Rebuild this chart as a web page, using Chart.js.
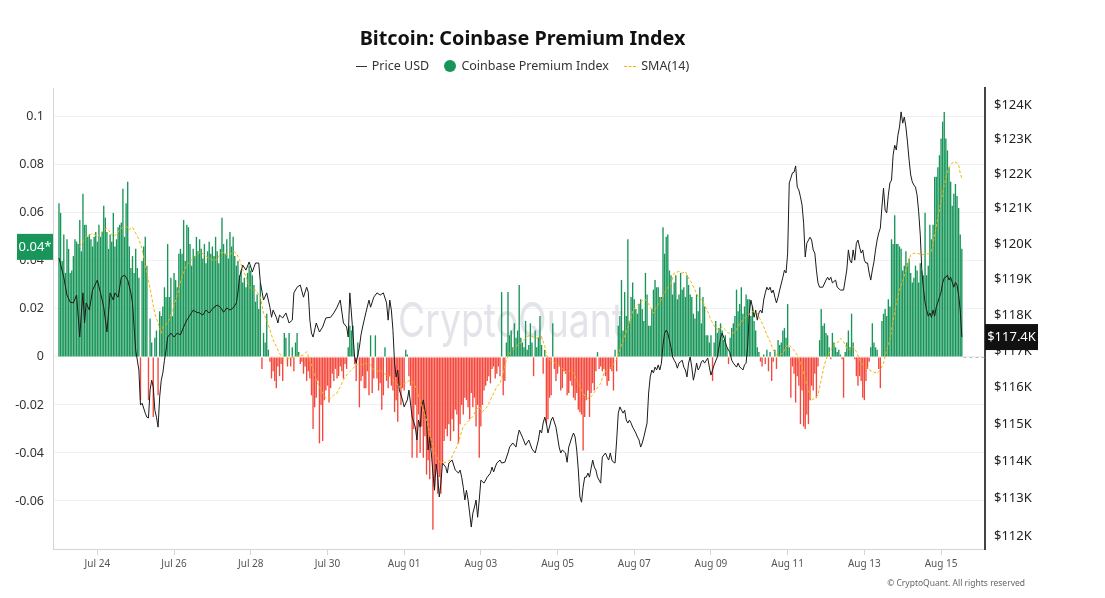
<!DOCTYPE html>
<html>
<head>
<meta charset="utf-8">
<title>Bitcoin: Coinbase Premium Index</title>
<script src="https://cdn.jsdelivr.net/npm/chart.js@4.4.1/dist/chart.umd.min.js"></script>
<style>
  html, body { margin: 0; padding: 0; background: #fff; }
  #wrap { position: relative; width: 1105px; height: 598px; font-family: "Noto Sans", sans-serif; }
  #premiumChart { position: absolute; left: 0; top: 0; }
  #title { position: absolute; left: 0; width: 1045px; top: 24px; text-align: center; font-size: 19.8px; font-weight: 700; color: #111; }
  #legend { position: absolute; left: 0; width: 1045px; top: 57px; text-align: center; font-size: 12.5px; color: #333; white-space: nowrap; }
  #legend .item { margin: 0 6px; }
  .mk-line { display: inline-block; width: 11px; border-top: 1px solid #333; vertical-align: middle; margin-right: 5px; }
  .mk-dot { display: inline-block; width: 12px; height: 12px; border-radius: 50%; background: #189659; vertical-align: -2px; margin-right: 5px; }
  .mk-dash { display: inline-block; width: 12px; border-top: 1px dashed #f5b400; vertical-align: middle; margin-right: 5px; }
  #copy { position: absolute; right: 80px; top: 577px; font-size: 8.5px; color: #666; }
</style>
</head>
<body>
<div id="wrap">
  <canvas id="premiumChart" width="1105" height="598"></canvas>
  <div id="title">Bitcoin: Coinbase Premium Index</div>
  <div id="legend">
    <span class="item"><span class="mk-line"></span>Price USD</span>
    <span class="item"><span class="mk-dot"></span>Coinbase Premium Index</span>
    <span class="item"><span class="mk-dash"></span>SMA(14)</span>
  </div>
  <div id="copy">© CryptoQuant. All rights reserved</div>
</div>
<script>
// hourly Coinbase premium, starting Jul 23 00:00 (index = hour)
const premium = [
  // Jul 23
  0.064, 0.060, 0.040, 0.051, 0.035, 0.049, 0.045, 0.035, 0.036, 0.042, 0.049, 0.048, 0.047, 0.057, 0.044, 0.068, 0.055, 0.055, 0.050, 0.051, 0.049, 0.046, 0.050, 0.052,
  // Jul 24
  0.048, 0.055, 0.050, 0.052, 0.063, 0.058, 0.052, 0.045, 0.051, 0.048, 0.060, 0.046, 0.049, 0.054, 0.055, 0.056, 0.070, 0.050, 0.064, 0.073, 0.046, 0.037, 0.042, 0.035,
  // Jul 25
  0.045, 0.037, 0.033, -0.018, 0.040, 0.046, 0.050, 0.038, -0.018, 0.016, 0.006, -0.025, 0.008, 0.011, -0.016, 0.019, 0.017, 0.021, 0.029, 0.025, 0.047, 0.025, 0.033, 0.017,
  // Jul 26
  0.035, 0.032, 0.029, 0.043, 0.045, 0.043, 0.057, 0.040, 0.055, 0.054, 0.047, 0.038, 0.045, 0.042, 0.050, 0.044, 0.049, 0.045, 0.041, 0.047, 0.039, 0.044, 0.048, 0.043,
  // Jul 27
  0.046, 0.042, 0.050, 0.044, 0.039, 0.045, 0.058, 0.047, 0.043, 0.049, 0.041, 0.052, 0.046, 0.050, 0.042, 0.038, 0.040, 0.034, 0.036, 0.031, 0.033, 0.029, 0.035, 0.038,
  // Jul 28
  0.036, 0.034, 0.030, 0.023, 0.026, 0.020, 0.031, -0.005, 0.010, 0.006, 0.018, 0.003, -0.002, -0.009, -0.006, -0.010, -0.013, -0.004, -0.008, -0.003, -0.010, 0.010, 0.008, -0.004,
  // Jul 29
  0.010, -0.004, 0.004, -0.006, 0.006, 0.010, 0.002, -0.003, -0.002, -0.007, -0.004, -0.010, -0.006, -0.009, -0.016, -0.030, -0.021, -0.017, -0.010, -0.036, -0.020, -0.035, -0.018, -0.014,
  // Jul 30
  -0.012, -0.019, -0.013, -0.007, -0.010, -0.005, -0.009, -0.008, -0.004, -0.006, -0.009, -0.003, -0.005, 0.004, 0.013, 0.011, 0.013, -0.003, -0.010, 0.006, -0.021, -0.010, -0.008, -0.013,
  // Jul 31
  -0.013, -0.006, -0.016, 0.009, -0.015, -0.009, 0.009, -0.009, -0.014, -0.011, -0.022, -0.016, 0.004, -0.010, -0.013, -0.008, -0.012, -0.014, -0.023, -0.018, -0.027, -0.012, -0.020, -0.013,
  // Aug 01
  -0.014, 0.003, 0.001, -0.008, -0.012, -0.042, -0.030, -0.020, -0.042, -0.024, -0.040, -0.029, -0.042, -0.033, -0.049, -0.043, -0.051, -0.038, -0.072, -0.054, -0.046, -0.057, -0.050, -0.057,
  // Aug 02
  -0.044, -0.035, -0.030, -0.033, -0.028, -0.035, -0.026, -0.031, -0.022, -0.024, -0.036, -0.028, -0.020, -0.024, -0.017, -0.018, -0.021, -0.026, -0.015, -0.021, -0.017, -0.029, -0.020, -0.042,
  // Aug 03
  -0.029, -0.020, -0.014, -0.012, -0.010, -0.008, -0.011, -0.005, -0.004, -0.009, -0.007, -0.004, -0.008, 0.027, -0.016, -0.010, 0.006, 0.027, 0.009, 0.011, 0.004, 0.014, 0.008, 0.011,
  // Aug 04
  0.030, 0.008, 0.006, 0.004, 0.015, 0.003, 0.005, 0.014, 0.006, -0.008, 0.011, 0.004, 0.008, 0.017, 0.005, -0.007, 0.003, -0.028, -0.026, -0.017, -0.016, 0.014, -0.005, -0.010,
  // Aug 05
  -0.007, -0.004, -0.014, -0.013, -0.006, -0.007, -0.016, -0.015, -0.010, -0.012, -0.017, -0.018, -0.015, -0.022, -0.023, -0.024, -0.039, -0.025, -0.018, -0.014, -0.025, -0.015, -0.011, -0.014,
  // Aug 06
  -0.006, 0.002, -0.005, -0.004, -0.006, -0.005, -0.008, -0.012, -0.010, -0.005, -0.006, -0.014, 0.003, -0.006, 0.013, 0.017, 0.032, 0.011, 0.027, 0.017, 0.049, 0.015, 0.025, 0.031,
  // Aug 07
  0.024, 0.020, 0.018, 0.022, 0.024, 0.020, 0.015, 0.035, 0.026, 0.013, 0.013, 0.020, 0.028, 0.032, 0.029, 0.029, 0.025, 0.025, 0.054, 0.043, 0.050, 0.051, 0.036, 0.034,
  // Aug 08
  0.026, 0.031, 0.034, 0.024, 0.026, 0.035, 0.028, 0.029, 0.025, 0.034, 0.030, 0.026, 0.025, 0.018, 0.016, 0.026, 0.019, 0.029, 0.014, 0.025, 0.021, 0.009, 0.009, 0.006,
  // Aug 09
  0.009, -0.010, 0.006, 0.015, 0.010, 0.012, 0.014, 0.011, 0.007, 0.009, 0.004, -0.003, 0.008, 0.012, 0.014, 0.017, 0.028, 0.019, 0.022, 0.029, 0.018, 0.021, 0.026, 0.024,
  // Aug 10
  0.024, 0.017, 0.021, 0.015, 0.011, 0.004, 0.002, -0.002, -0.004, 0.001, -0.003, 0.003, -0.006, 0.002, -0.010, -0.002, 0.003, -0.005, 0.007, 0.005, 0.006, 0.011, 0.012, 0.008,
  // Aug 11
  0.022, 0.004, -0.017, -0.004, -0.007, -0.019, -0.008, -0.012, -0.028, -0.014, -0.029, -0.030, -0.024, -0.028, -0.018, -0.012, -0.014, -0.007, -0.017, -0.004, 0.007, 0.020, 0.013, 0.014,
  // Aug 12
  0.010, 0.009, 0.004, -0.001, 0.010, 0.006, 0.004, 0.002, 0.003, 0.001, -0.001, -0.017, 0.002, 0.006, 0.011, 0.004, 0.018, 0.006, -0.001, -0.008, -0.012, -0.008, -0.010, -0.017,
  // Aug 13
  -0.018, -0.010, -0.005, -0.002, 0.004, 0.014, 0.006, 0.004, 0.003, -0.005, -0.013, 0.015, 0.018, 0.020, 0.017, 0.024, 0.021, 0.049, 0.047, 0.059, 0.047, 0.047, 0.046, 0.045,
  // Aug 14
  0.036, 0.038, 0.044, 0.039, 0.041, 0.035, 0.031, 0.033, 0.038, 0.036, 0.031, 0.039, 0.036, 0.034, 0.060, 0.034, 0.038, 0.055, 0.049, 0.055, 0.075, 0.075, 0.079, 0.084,
  // Aug 15
  0.091, 0.098, 0.102, 0.091, 0.086, 0.079, 0.073, 0.063, 0.068, 0.072, 0.067, 0.062, 0.051, 0.045
];

// [hour, SMA(14)]
const smaSeries = [
  [13,0.046],[17,0.050],[21,0.0515],[24,0.050],[26,0.0515],[28,0.053],[30,0.0536],[32,0.052],[34,0.050],[36,0.051],[38,0.053],[40,0.054],[42,0.0545],[44,0.053],[46,0.054],[48,0.0515],[50,0.049],[52,0.045],[54,0.038],[56,0.032],[58,0.025],[60,0.018],[62,0.014],[64,0.0098],[65,0.0126],[67,0.0133],[69,0.0154],[71,0.0196],[73,0.0238],[75,0.028],[77,0.0335],[80,0.0383],[84,0.0411],[88,0.0435],[90,0.043],[92,0.042],[94,0.041],[96,0.0404],[99,0.0404],[101,0.0432],[103,0.0435],[105,0.0425],[107,0.0425],[109,0.044],[111,0.0432],[113,0.0404],[115,0.0363],[117,0.0335],[119,0.0293],[121,0.028],[123,0.0279],[126,0.025],[128,0.0182],[130,0.0154],[132,0.0113],[134,0.0071],[136,0.0043],[138,0.0015],[140,-0.0006],[144,-0.0006],[148,0.0001],[153,0.0008],[155,0.0022],[157,-0.0012],[159,-0.0054],[161,-0.0096],[163,-0.0124],[165,-0.0151],[167,-0.0172],[170,-0.0172],[172,-0.0158],[174,-0.0151],[176,-0.0124],[178,-0.0096],[180,-0.0075],[182,-0.0061],[184,-0.0047],[186,-0.0033],[188,-0.0026],[190,-0.0033],[192,-0.0026],[195,-0.0033],[197,-0.0054],[199,-0.0061],[201,-0.0054],[203,-0.0068],[205,-0.0075],[207,-0.0082],[209,-0.0096],[211,-0.011],[213,-0.0124],[215,-0.0117],[218,-0.0103],[220,-0.0096],[222,-0.011],[224,-0.0137],[226,-0.018],[228,-0.0221],[230,-0.0262],[232,-0.0318],[234,-0.0373],[236,-0.0415],[238,-0.0436],[240,-0.0443],[243,-0.0436],[245,-0.0429],[247,-0.0401],[249,-0.0373],[251,-0.0332],[253,-0.029],[255,-0.0276],[257,-0.0262],[259,-0.0248],[261,-0.0221],[263,-0.0207],[265,-0.0228],[268,-0.0207],[270,-0.018],[272,-0.0151],[274,-0.0124],[276,-0.011],[278,-0.0068],[280,-0.0012],[282,0.0015],[284,0.0029],[286,0.0043],[288,0.0055],[290,0.0064],[293,0.0085],[295,0.009],[297,0.0082],[299,0.0078],[302,0.0085],[304,0.0043],[305,0.0008],[307,-0.0012],[309,-0.0019],[311,-0.0026],[314,-0.004],[316,-0.0054],[318,-0.0068],[320,-0.0054],[322,-0.0068],[324,-0.0096],[326,-0.0124],[328,-0.0151],[330,-0.0172],[332,-0.0172],[334,-0.0158],[336,-0.0137],[339,-0.011],[341,-0.0068],[343,-0.0054],[345,-0.0047],[347,-0.003],[349,-0.001],[351,0.003],[353,0.007],[355,0.0105],[357,0.014],[359,0.019],[361,0.021],[364,0.023],[367,0.024],[370,0.021],[372,0.0182],[374,0.021],[377,0.0238],[380,0.0279],[383,0.0307],[385,0.0349],[388,0.0356],[390,0.0349],[392,0.0356],[394,0.0328],[396,0.0307],[398,0.0279],[400,0.0251],[402,0.024],[404,0.0217],[406,0.0189],[408,0.0154],[411,0.0119],[413,0.0113],[415,0.0126],[417,0.0113],[419,0.0099],[422,0.0099],[424,0.0113],[426,0.014],[430,0.0168],[434,0.0189],[437,0.0182],[439,0.0154],[441,0.0126],[443,0.0092],[445,0.0064],[447,0.0029],[449,0.0008],[451,0.0008],[453,0.0015],[455,0.0043],[457,0.005],[459,0.0036],[462,0.0008],[465,-0.004],[467,-0.0096],[469,-0.0137],[471,-0.018],[473,-0.0172],[475,-0.0158],[477,-0.0096],[479,-0.0033],[481,0.0008],[483,0.0029],[485,0.005],[488,0.0064],[489,0.0078],[491,0.0064],[493,0.0036],[495,0.0029],[497,0.0043],[499,0.0022],[501,-0.0012],[503,-0.0033],[505,-0.004],[507,-0.0054],[509,-0.0061],[512,-0.0068],[514,-0.0054],[516,-0.0026],[518,0.003],[520,0.0071],[522,0.015],[524,0.0224],[526,0.0279],[528,0.0314],[531,0.0383],[533,0.0425],[535,0.0432],[538,0.043],[540,0.0425],[542,0.0428],[544,0.043],[546,0.0439],[548,0.0508],[550,0.0578],[552,0.0647],[554,0.0717],[556,0.0772],[558,0.08],[560,0.0814],[562,0.0807],[563,0.08],[564,0.0765],[565,0.0744]
];

// [hour, BTC price USD]
const priceSeries = [
  [0,119600],[3,119060],[5,118560],[7,118360],[9,118340],[11,118560],[13,117390],[14,118060],[15,118620],[16,117780],[17,118340],[19,118140],[21,118700],[24,118980],[26,118620],[28,118220],[30,117530],[32,118620],[34,118420],[35,118620],[37,118500],[39,119060],[41,119120],[43,118980],[45,118620],[46,118340],[47,117670],[48,117030],[50,116480],[51,115520],[52,115570],[54,115300],[55,115190],[56,115170],[57,115930],[58,116200],[59,116010],[60,115380],[61,115190],[62,114920],[63,115740],[64,116200],[65,116400],[66,116750],[67,117030],[68,117390],[70,117500],[72,117390],[74,117500],[76,117450],[78,117670],[80,117860],[82,118000],[84,118140],[86,118080],[88,118060],[90,118000],[92,118140],[94,118060],[97,118220],[99,118280],[101,118220],[103,118080],[105,118200],[107,118140],[109,118200],[111,118340],[112,118640],[113,119060],[115,119400],[117,119260],[119,119490],[121,119210],[123,119460],[125,119460],[126,118920],[128,118420],[130,118620],[132,118220],[133,117940],[134,118140],[136,117940],[137,117780],[138,118000],[140,117920],[142,118060],[144,117780],[146,117860],[147,118620],[149,118780],[151,118840],[153,118500],[155,118780],[156,118640],[157,117860],[158,117500],[159,117390],[161,117780],[163,117530],[165,117670],[167,117920],[170,117940],[172,118060],[174,118220],[176,118420],[178,117780],[180,117670],[181,117390],[182,118620],[183,118060],[185,116840],[186,116670],[188,117110],[189,117450],[190,117670],[192,118060],[194,118420],[195,118220],[197,118500],[199,118620],[201,118560],[203,118620],[205,118340],[206,117860],[207,118420],[208,118140],[209,117580],[210,116670],[211,116290],[212,116480],[213,115930],[215,115660],[216,115470],[218,115660],[219,115930],[221,115190],[223,114920],[224,114570],[225,115110],[226,114920],[227,115470],[228,115660],[229,115380],[230,115110],[231,114300],[232,114650],[233,114220],[234,113680],[235,113220],[236,113920],[237,113570],[238,113040],[239,113410],[240,113950],[242,113840],[243,113680],[244,113950],[246,114030],[248,113760],[250,113680],[251,113760],[252,113570],[253,113300],[254,112960],[255,113220],[256,112960],[257,112610],[258,112240],[259,112610],[260,112770],[261,112960],[262,112500],[263,112960],[264,113490],[266,113410],[268,113570],[270,113680],[271,113840],[272,113710],[273,113840],[274,113950],[276,114030],[277,113950],[279,113970],[281,114220],[282,114380],[284,114490],[286,114380],[287,114650],[288,114840],[290,114650],[292,114430],[294,114570],[296,114330],[298,114220],[300,114570],[301,114840],[302,114760],[303,115030],[304,115190],[305,115030],[306,114760],[308,115110],[309,115190],[311,114920],[312,114650],[313,114380],[314,114220],[315,114300],[317,114220],[318,113970],[319,114380],[321,114650],[322,114760],[323,114650],[324,114300],[325,113760],[326,113040],[327,112900],[328,113300],[329,113570],[330,113570],[331,113680],[332,113570],[333,113810],[334,114030],[335,113840],[336,113760],[337,113570],[338,113490],[339,113410],[340,114110],[342,114220],[343,114110],[344,114030],[345,114220],[346,114030],[347,113970],[348,113950],[349,114570],[350,115300],[351,115470],[352,115380],[353,115300],[354,115380],[355,115110],[356,115030],[357,115110],[358,115030],[359,114920],[361,114760],[362,114650],[363,114570],[364,114380],[365,114490],[366,114650],[367,114840],[368,115030],[369,115850],[370,116290],[371,116480],[372,116400],[373,116560],[374,116480],[375,116620],[376,116480],[377,116670],[378,117170],[379,117500],[380,117580],[381,117500],[382,117310],[383,117110],[384,116840],[385,116750],[386,116670],[387,116530],[388,116670],[390,116750],[391,116560],[392,116480],[393,116290],[394,116670],[395,116840],[396,116560],[397,116200],[398,116400],[399,116670],[400,116480],[401,116560],[402,116700],[403,116750],[404,116670],[406,116810],[407,116560],[408,116340],[409,116480],[410,116620],[412,116840],[414,117360],[415,117500],[416,117390],[417,117250],[418,117110],[419,117030],[420,116950],[421,116750],[422,116670],[424,116560],[425,116670],[426,116560],[427,116530],[428,116480],[429,116620],[430,116670],[431,117170],[432,118060],[433,118420],[434,118220],[435,117940],[436,118140],[437,117860],[438,118060],[439,118140],[440,118060],[441,118420],[442,118620],[443,118780],[444,118700],[445,118780],[446,118620],[447,118700],[448,118500],[449,118340],[450,118500],[451,118700],[453,119060],[454,119260],[455,119180],[456,119740],[457,121740],[458,121880],[459,122030],[460,122050],[461,122230],[462,121620],[463,121540],[464,121340],[465,121110],[466,120590],[467,119630],[468,120020],[470,120190],[471,120110],[472,119830],[473,119740],[474,119260],[475,118900],[476,118780],[478,118780],[480,118980],[481,119060],[482,118980],[483,119060],[484,118900],[486,118980],[487,118780],[489,118700],[491,118700],[493,119260],[494,119830],[495,119540],[496,119460],[497,119830],[498,119540],[499,120020],[500,120110],[501,119910],[502,119740],[503,119830],[504,119540],[505,119460],[506,119460],[507,119180],[508,118980],[509,119260],[510,119490],[511,119830],[512,120110],[513,120310],[514,120450],[515,121050],[516,121590],[517,120960],[518,120880],[519,121390],[520,121740],[521,121820],[522,122540],[523,122830],[524,122690],[525,123120],[526,123360],[527,123800],[528,123470],[529,123650],[530,123360],[531,122920],[532,122400],[533,121970],[534,121770],[535,121680],[536,121620],[537,121390],[538,120910],[539,120250],[540,119210],[541,118730],[542,118360],[543,118140],[544,117970],[545,118060],[546,117940],[547,118140],[548,117970],[549,118220],[550,118360],[551,118500],[552,118640],[553,118900],[554,119040],[555,119060],[556,119120],[557,118980],[558,119060],[559,118920],[560,118780],[561,118920],[562,118840],[563,118560],[564,118140],[565,117390]
];

const tickHours = [24, 72, 120, 168, 216, 264, 312, 360, 408, 456, 504, 552];
const tickLabels = ["Jul 24", "Jul 26", "Jul 28", "Jul 30", "Aug 01", "Aug 03", "Aug 05", "Aug 07", "Aug 09", "Aug 11", "Aug 13", "Aug 15"];
const premiumTicks = [-0.06, -0.04, -0.02, 0, 0.02, 0.04, 0.06, 0.08, 0.1];
const priceTicks = [112000, 113000, 114000, 115000, 116000, 117000, 118000, 119000, 120000, 121000, 122000, 123000, 124000];
const premiumBadge = "0.04*";

const GREEN = "#189659";
const RED = "#f5473b";
const FONT = "'Noto Sans', sans-serif";

// watermark behind the bars
const watermark = {
  id: "watermark",
  beforeDatasetsDraw(chart) {
    const ctx = chart.ctx;
    ctx.save();
    ctx.font = "400 48px Inter";
    ctx.fillStyle = "#e3e3ea";
    const w = ctx.measureText("CryptoQuant").width;
    ctx.translate(398, 337);
    ctx.scale(226 / w, 1);
    ctx.fillText("CryptoQuant", 0, 0);
    ctx.restore();
  },
};

// last value badges + dashed zero line after the last bar
const badges = {
  id: "badges",
  afterDraw(chart) {
    const ctx = chart.ctx;
    const area = chart.chartArea;
    const yS = chart.scales.y;
    const pS = chart.scales.yPrice;
    const xS = chart.scales.x;

    ctx.save();
    ctx.strokeStyle = "#bbb";
    ctx.setLineDash([3, 3]);
    ctx.lineWidth = 1;
    const zy = Math.round(yS.getPixelForValue(0)) + 0.5;
    ctx.beginPath();
    ctx.moveTo(xS.getPixelForValue(premium.length), zy);
    ctx.lineTo(area.right, zy);
    ctx.stroke();
    ctx.setLineDash([]);

    const lastPrem = premium[premium.length - 1];
    const py = yS.getPixelForValue(lastPrem) - 2;
    ctx.fillStyle = GREEN;
    ctx.fillRect(17, py - 13, area.left - 17, 26);
    ctx.fillStyle = "#fff";
    ctx.font = "13px " + FONT;
    ctx.textAlign = "center";
    ctx.textBaseline = "middle";
    ctx.fillText(premiumBadge, (17 + area.left) / 2, py);

    const lastPrice = priceSeries[priceSeries.length - 1][1];
    const qy = pS.getPixelForValue(lastPrice);
    ctx.fillStyle = "#111";
    ctx.fillRect(area.right, qy - 13, 53, 26);
    ctx.fillStyle = "#fff";
    ctx.fillText("$" + (lastPrice / 1000).toFixed(1) + "K", area.right + 26.5, qy);
    ctx.restore();
  },
};

const ctx = document.getElementById("premiumChart").getContext("2d");
const premiumChart = new Chart(ctx, {
  type: "bar",
  data: {
    datasets: [
      {
        type: "line",
        label: "SMA(14)",
        data: smaSeries.map((p) => ({ x: p[0], y: p[1] })),
        yAxisID: "y",
        borderColor: "#f5b400",
        borderWidth: 1,
        borderDash: [3, 2],
        pointRadius: 0,
        tension: 0,
        order: 1,
      },
      {
        type: "line",
        label: "Price USD",
        data: priceSeries.map((p) => ({ x: p[0], y: p[1] })),
        yAxisID: "yPrice",
        borderColor: "#1b1b1b",
        borderWidth: 1,
        pointRadius: 0,
        tension: 0,
        order: 2,
      },
      {
        type: "bar",
        label: "Coinbase Premium Index",
        data: premium.map((v, i) => ({ x: i, y: v })),
        yAxisID: "y",
        backgroundColor: (c) => (c.raw && c.raw.y < 0 ? RED : GREEN),
        categoryPercentage: 1,
        barPercentage: 0.85,
        order: 3,
      },
    ],
  },
  options: {
    responsive: false,
    animation: false,
    layout: { padding: { top: 88, left: 0, right: 0, bottom: 0 } },
    plugins: {
      legend: { display: false },
      title: { display: false },
      tooltip: { enabled: false },
    },
    scales: {
      x: {
        type: "linear",
        min: -3.75,
        max: 579.5,
        offset: false,
        afterBuildTicks: (s) => {
          s.ticks = tickHours.map((v) => ({ value: v }));
        },
        afterFit: (s) => {
          s.height = 49;
        },
        grid: { display: true, offset: false, drawOnChartArea: false, drawTicks: true, tickLength: 6, color: "#d4d4da" },
        border: { display: true, color: "#d4d4da" },
        ticks: {
          autoSkip: false,
          maxRotation: 0,
          padding: 3,
          color: "#555",
          font: { family: FONT, size: 10 },
          callback: (v) => tickLabels[tickHours.indexOf(v)],
        },
      },
      y: {
        position: "left",
        min: -0.08,
        max: 0.112,
        afterBuildTicks: (s) => {
          s.ticks = premiumTicks.map((v) => ({ value: v }));
        },
        afterFit: (s) => {
          s.width = 53;
        },
        grid: { color: "#f1f1f3", drawTicks: false },
        border: { display: true, color: "#d4d4da" },
        ticks: {
          padding: 9,
          color: "#333",
          font: { family: FONT, size: 12.5 },
          callback: (v) => (v === 0 ? "0" : String(+v.toFixed(2))),
        },
      },
      yPrice: {
        type: "logarithmic",
        position: "right",
        min: 111660,
        max: 124500,
        afterBuildTicks: (s) => {
          s.ticks = priceTicks.map((v) => ({ value: v }));
        },
        afterFit: (s) => {
          s.width = 120;
        },
        grid: { display: false, drawTicks: false },
        border: { display: true, color: "#444", width: 2 },
        ticks: {
          autoSkip: false,
          padding: 9,
          color: "#222",
          font: { family: FONT, size: 13 },
          callback: (v) => "$" + v / 1000 + "K",
        },
      },
    },
  },
  plugins: [watermark, badges],
});
</script>
</body>
</html>
